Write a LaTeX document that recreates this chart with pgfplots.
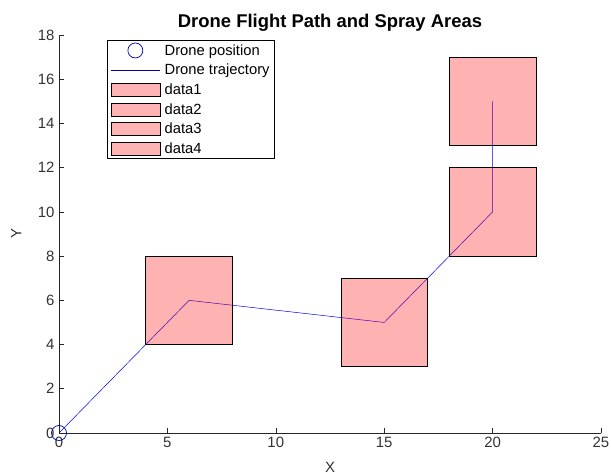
\documentclass[border=0pt]{standalone}
\usepackage{pgfplots}
\pgfplotsset{compat=1.18}
\usepackage{fontspec}
\setmainfont{Liberation Sans}

\definecolor{sprayfill}{RGB}{255,179,179}

\pgfplotsset{
  sprayarea/.style={
    draw=black, line width=0.6pt, fill=red, fill opacity=0.3, draw opacity=1,
    area legend,
    legend image code/.code={
      \draw[draw=black, line width=0.6pt, fill=sprayfill, fill opacity=1, draw opacity=1]
        (0cm,-0.23cm) rectangle (1.73cm,0.23cm);
    }
  }
}

\begin{document}
\begin{tikzpicture}[x=1bp,y=1bp]
\begin{axis}[
  scale only axis,
  width=542bp, height=398bp,
  xmin=0, xmax=25, ymin=0, ymax=18,
  xtick={0,5,...,25}, ytick={0,2,...,18},
  axis x line=bottom, axis y line=left,
  axis line style={-, line width=0.6pt, black!85},
  tick align=inside, major tick length=5bp,
  tick style={line width=0.6pt, black!85},
  /pgf/number format/assume math mode=true,
  ticklabel style={font=\fontsize{15}{17}\selectfont, text=black!80},
  xticklabel style={yshift=-1bp},
  yticklabel style={xshift=-1bp},
  xlabel={X},
  label style={font=\fontsize{15}{17}\selectfont, text=black!80},
  xlabel style={at={(axis description cs:0.5,-0.086)}, anchor=center},
  title={\textbf{Drone Flight Path and Spray Areas}},
  title style={font=\fontsize{18.5}{21}\selectfont, at={(axis description cs:0.5,1.016)}, anchor=center},
  clip=false,
  legend cell align=left,
  legend style={at={(axis description cs:0.089,0.987)}, anchor=north west,
    font=\fontsize{14.8}{17}\selectfont, draw=black, line width=0.6pt,
    row sep=5bp, inner xsep=3bp, inner ysep=2.5bp,
    nodes={inner ysep=1.2bp, inner xsep=1.5bp},
    /tikz/every odd column/.append style={column sep=3bp}},
]
% drone start position
\addplot[only marks, mark=o, mark size=7.5bp, blue!70!black, line width=0.7pt,
  legend image code/.code={\draw plot coordinates {(0.865cm,0cm)};}]
  coordinates {(0,0)};
\addlegendentry{Drone position}
% flight trajectory
\addplot[blue, line width=0.5pt, mark=none,
  legend image code/.code={\draw[blue!60!black, line width=0.6pt] (0cm,0cm) -- (1.73cm,0cm);}]
  coordinates {(0,0) (6,6) (15,5) (20,10) (20,15)};
\addlegendentry{Drone trajectory}
% spray areas
\addplot[sprayarea] coordinates {(4,4) (8,4) (8,8) (4,8)} -- cycle;
\addlegendentry{data1}
\addplot[sprayarea] coordinates {(13,3) (17,3) (17,7) (13,7)} -- cycle;
\addlegendentry{data2}
\addplot[sprayarea] coordinates {(18,8) (22,8) (22,12) (18,12)} -- cycle;
\addlegendentry{data3}
\addplot[sprayarea] coordinates {(18,13) (22,13) (22,17) (18,17)} -- cycle;
\addlegendentry{data4}
% y axis label, set upright-rotated at the left of the axis
\node[font=\fontsize{15}{17}\selectfont, text=black!80, rotate=90, anchor=center]
  at (axis description cs:-0.079,0.5) {Y};
\end{axis}
\pgfresetboundingbox
\path ([shift={(-59bp,-43bp)}]current axis.south west) rectangle ([shift={(10bp,35bp)}]current axis.north east);
\end{tikzpicture}
\end{document}
